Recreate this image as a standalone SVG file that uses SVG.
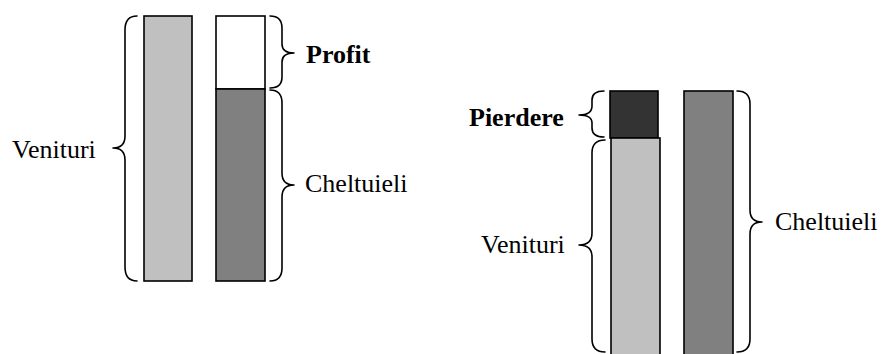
<svg xmlns="http://www.w3.org/2000/svg" width="881" height="354" viewBox="0 0 881 354">
<style>
.bar{stroke:#000;stroke-width:1.6}
.light{fill:#c0c0c0}
.mid{fill:#808080}
.dark{fill:#333333}
.white{fill:#ffffff}
.brace{fill:none;stroke:#000;stroke-width:1.6;stroke-linecap:round;stroke-linejoin:round}
.t{font-family:"Liberation Serif","Times New Roman",serif;font-size:26px;fill:#000}
.b{font-weight:bold}
</style>
<rect width="881" height="354" fill="#fff"/>
<g id="left-venituri-bar"><rect class="bar light" x="144" y="16" width="48" height="265"/></g>
<g id="left-profit-bar"><rect class="bar white" x="216" y="16" width="49" height="73"/></g>
<g id="left-cheltuieli-bar"><rect class="bar mid" x="216" y="89" width="49" height="192"/></g>
<g id="right-pierdere-bar"><rect class="bar dark" x="610" y="91" width="48" height="47"/></g>
<g id="right-venituri-bar"><rect class="bar light" x="611" y="138" width="49" height="220"/></g>
<g id="right-cheltuieli-bar"><rect class="bar mid" x="684" y="91" width="49" height="267"/></g>
<g id="braces">
<path class="brace" d="M137,16 Q125,16 125,30 L125,136 Q125,148 113,148 Q125,148 125,160 L125,267 Q125,281 137,281"/>
<path class="brace" d="M270,16 Q282,16 282,28 L282,44 Q282,53 294,53 Q282,53 282,62 L282,77 Q282,88 270,88"/>
<path class="brace" d="M270,90 Q282,90 282,103 L282,173 Q282,185 294,185 Q282,185 282,197 L282,268 Q282,281 270,281"/>
<path class="brace" d="M604,91 Q592,91 592,100 L592,106 Q592,115 579,115 Q592,115 592,123 L592,128 Q592,137 604,137"/>
<path class="brace" d="M605,140 Q592,140 592,153 L592,233 Q592,245 579,245 Q592,245 592,257 L592,339 Q592,352 605,352"/>
<path class="brace" d="M737,91 Q750,91 750,104 L750,210 Q750,222 762,222 Q750,222 750,234 L750,339 Q750,352 737,352"/>
</g>
<g id="label-venituri-left"><text class="t" x="12" y="158">Venituri</text></g>
<g id="label-profit"><text class="t b" x="306" y="63">Profit</text></g>
<g id="label-cheltuieli-left"><text class="t" x="305" y="192">Cheltuieli</text></g>
<g id="label-pierdere"><text class="t b" x="469" y="126">Pierdere</text></g>
<g id="label-venituri-right"><text class="t" x="481" y="253">Venituri</text></g>
<g id="label-cheltuieli-right"><text class="t" x="775" y="230">Cheltuieli</text></g>
</svg>
